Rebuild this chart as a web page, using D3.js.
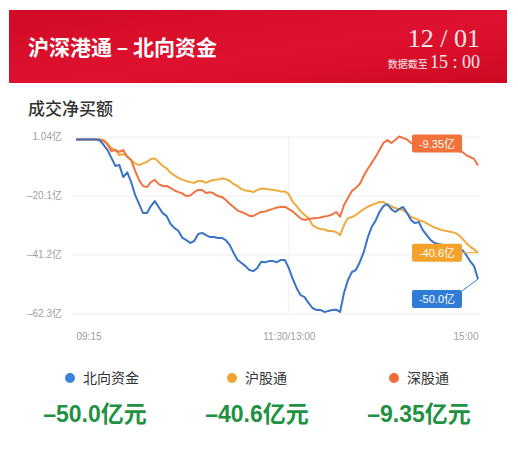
<!DOCTYPE html>
<html><head><meta charset="utf-8">
<script src="https://cdn.jsdelivr.net/npm/d3@7"></script>
<style>
html,body{margin:0;padding:0;background:#fff;}
svg{display:block;}
</style></head>
<body>
<svg id="c" width="518" height="464"></svg>
<script>
// ---- data ----
const times = [
 "09:15","09:17:30","09:20","09:22:30","09:25","09:27:30","09:30","09:32:30","09:35","09:37:30","09:40","09:42:30","09:45","09:47:30","09:50","09:52:30","09:55","09:57:30",
 "10:00","10:02:30","10:05","10:07:30","10:10","10:12:30","10:15","10:17:30","10:20","10:22:30","10:25","10:27:30","10:30","10:32:30","10:35","10:37:30","10:40","10:42:30","10:45","10:47:30","10:50","10:52:30","10:55","10:57:30",
 "11:00","11:02:30","11:05","11:07:30","11:10","11:12:30","11:15","11:17:30","11:20","11:22:30","11:25","11:27:30","11:30",
 "13:02:30","13:05","13:07:30","13:10","13:12:30","13:15","13:17:30","13:20","13:22:30","13:25","13:27:30","13:30","13:32:30","13:35","13:37:30","13:40","13:42:30","13:45","13:47:30","13:50","13:52:30","13:55","13:57:30",
 "14:00","14:02:30","14:05","14:07:30","14:10","14:12:30","14:15","14:17:30","14:20","14:22:30","14:25","14:27:30","14:30","14:32:30","14:35","14:37:30","14:40","14:42:30","14:45","14:47:30","14:50","14:52:30","14:55","14:57:30",
 "15:00"];
const northbound = [
 0,0, 0,0, 0,0, -0.3,-2.0, -3.8,-6.7, -9.5,-9.2, -13.5,-11.8, -15.3,-19.9, -23.1,-26.4, -26.4,-23.9,
 -22.1,-24.3, -26.4,-27.5, -30.3,-31.8, -32.8,-35.3, -36.1,-37.1, -36.4,-33.9, -33.5,-34.3, -35.0,-35.0, -35.3,-35.3, -36.1,-37.8,
 -40.7,-43.2, -44.3,-45.4, -46.8,-47.2, -46.1,-43.8, -44.0,-43.6, -43.6,-44.0, -43.2,-43.2, -46.1,
 -50.0, -53.3,-55.8, -56.5,-58.6, -60.4,-61.1, -61.1,-61.8, -61.5,-61.1, -61.0,-61.8, -55.0,-50.4, -47.5,-46.8, -44.0,-40.4, -35.3,-31.4,
 -29.2,-26.0, -23.9,-23.2, -25.0,-26.0, -25.0,-24.2, -26.4,-28.9, -30.0,-29.6, -32.5,-34.3, -36.1,-37.1, -37.5,-37.8, -38.6,-38.6,
 -39.0,-39.3, -39.6,-41.4, -43.6,-45.4, -50.0];
const shanghai = [
 0,0, 0,0, 0,0, 0,-0.2, -1.5,-3.1, -3.8,-5.6, -5.2,-6.0, -7.4,-8.6, -9.2,-8.6, -8.1,-7.0,
 -6.8,-8.1, -9.5,-10.4, -12.0,-12.9, -13.8,-14.5, -14.9,-15.3, -15.6,-14.9, -14.9,-15.6, -14.9,-14.5, -14.4,-14.0, -14.2,-14.9,
 -16.0,-16.7, -17.8,-18.3, -18.5,-18.9, -18.1,-17.6, -17.8,-17.9, -18.1,-18.3, -18.7,-18.7, -19.6,
 -22.4, -23.9,-25.7, -27.1,-28.2, -30.7,-31.6, -32.1,-32.3, -32.8,-32.8, -33.2,-34.3, -30.7,-28.2, -27.8,-27.1, -26.0,-25.0, -24.2,-23.5,
 -23.0,-22.4, -22.4,-23.5, -23.9,-24.6, -25.0,-25.3, -26.4,-27.8, -28.3,-28.9, -29.4,-30.1, -30.9,-31.6, -32.1,-32.5, -32.8,-33.1,
 -33.4,-34.1, -35.5,-37.1, -38.4,-39.4, -40.6];
const shenzhen = [
 0,0, 0,0, 0,0, 0,-0.6, -1.8,-4.2, -3.8,-4.5, -3.8,-6.3, -7.4,-11.3, -14.5,-16.7, -17.1,-15.3,
 -14.5,-16.0, -16.7,-16.7, -17.4,-18.3, -18.9,-19.4, -20.3,-20.1, -18.9,-18.1, -18.1,-19.2, -18.9,-19.4, -20.3,-20.6, -21.7,-23.1,
 -24.2,-25.5, -26.0,-26.6, -27.4,-27.4, -26.7,-26.0, -25.8,-25.3, -24.9,-24.4, -24.2,-24.1, -25.0,
 -25.8, -27.1,-28.3, -28.9,-28.5, -28.3,-28.2, -28.0,-27.6, -27.4,-26.9, -26.0,-27.7, -23.5,-21.0, -18.5,-17.4, -16.0,-13.1, -10.6,-8.5,
 -6.3,-3.8, -1.3,-0.2, -1.3,-0.2, 1.04,0.5, 0.0,-1.3, -1.6,-2.0, -2.4,-2.5, -2.7,-2.9, -3.1,-3.3, -3.4,-3.6,
 -3.8,-4.2, -4.5,-5.6, -6.3,-7.0, -9.35];
const seriesNames = ["北向资金","沪股通","深股通"];
const endLabels = ["-50.0亿","-40.6亿","-9.35亿"];
const totals = ["–50.0亿元","–40.6亿元","–9.35亿元"];
const yTicks = [1.04,-20.1,-41.2,-62.3];
const yTickLabels = ["1.04亿","–20.1亿","–41.2亿","–62.3亿"];
const xTicks = ["09:15","11:30","15:00"];
const xTickLabels = ["09:15","11:30/13:00","15:00"];

// ---- styles ----
const lineColors = ["#3a74c4","#eeaa3c","#ee7443"];
const boxColors = ["#2f7bd6","#f3a22c","#f2703a"];
const dotColors = ["#3a82dc","#f2a430","#ee6c3a"];
const labelDy = [20, 0, -22];
const CJK = "'Noto Sans CJK SC','Noto Sans',sans-serif";
const NUM = "'Liberation Sans','Noto Sans CJK SC',sans-serif";

const svg = d3.select("#c");
const defs = svg.append("defs");
const g1 = defs.append("linearGradient").attr("id","hdr").attr("x1","0").attr("y1","0").attr("x2","1").attr("y2","1");
g1.append("stop").attr("offset","0").attr("stop-color","#d20a24");
g1.append("stop").attr("offset","0.55").attr("stop-color","#de1230");
g1.append("stop").attr("offset","0.75").attr("stop-color","#d80e2a");
g1.append("stop").attr("offset","1").attr("stop-color","#cc0a22");

// header
svg.append("rect").attr("x",9).attr("y",10).attr("width",498).attr("height",73).attr("fill","url(#hdr)");
svg.append("text").attr("x",28).attr("y",55).attr("fill","#fff")
  .style("font-family",CJK).style("font-size","21px").style("font-weight","700")
  .text("沪深港通 – 北向资金");
svg.append("text").attr("x",480).attr("y",47).attr("text-anchor","end").attr("fill","#fbe6e8")
  .style("font-family","'Liberation Serif','DejaVu Serif',serif").style("font-size","26px")
  .text("12 / 01");
const sub = svg.append("text").attr("x",480).attr("y",68).attr("text-anchor","end").attr("fill","#fbe6e8");
sub.append("tspan").style("font-family",CJK).style("font-size","10px").text("数据截至 ");
sub.append("tspan").style("font-family","'Liberation Serif','DejaVu Serif',serif").style("font-size","18px").text("15 : 00");

svg.append("text").attr("x",28).attr("y",115).attr("fill","#333")
  .style("font-family",CJK).style("font-size","17px").style("font-weight","500")
  .text("成交净买额");

// scales
const x = d3.scalePoint().domain(times).range([76,478]);
const y = d3.scaleLinear().domain([-62.3,1.04]).range([313.3,136.5]);

// y axis w/ gridlines
const ya = svg.append("g").attr("transform","translate(72,0)")
  .call(d3.axisLeft(y).tickValues(yTicks).tickSize(-408).tickPadding(10)
    .tickFormat((d,i)=>yTickLabels[i]));
ya.select(".domain").remove();
ya.selectAll(".tick line").attr("stroke","#eeeeee").attr("stroke-width",1);
ya.selectAll(".tick text").attr("fill","#a0a0a0").style("font-family",NUM).style("font-size","10px");

// vertical gridline at midday
svg.append("line").attr("x1",x("11:30")).attr("x2",x("11:30")).attr("y1",136.5).attr("y2",313.3)
  .attr("stroke","#f0f0f0");

// x axis
const xa = svg.append("g").attr("transform","translate(0,330)")
  .call(d3.axisBottom(x).tickValues(xTicks).tickSize(0).tickPadding(3)
    .tickFormat((d,i)=>xTickLabels[i]));
xa.select(".domain").remove();
xa.selectAll(".tick text").attr("fill","#a0a0a0").style("font-family",NUM).style("font-size","10px")
  .attr("text-anchor",(d,i)=> i===0?"start":(i===2?"end":"middle"));

// lines
const allSeries = [northbound, shanghai, shenzhen];
const line = d3.line().x((d,i)=>x(times[i])).y(d=>y(d));
const drawOrder = [1,2,0];
drawOrder.forEach(s=>{
  svg.append("path").datum(allSeries[s]).attr("d",line).attr("fill","none")
    .attr("stroke",lineColors[s]).attr("stroke-width",2).attr("stroke-linejoin","round");
});

// end labels
allSeries.forEach((vals,s)=>{
  const ex = x(times[times.length-1]);
  const ey = y(vals[vals.length-1]);
  const bx = ex-66, bw = 50, bh = 18;
  const cy = ey + labelDy[s];
  if (s!==2) {
    svg.append("line").attr("x1",bx+bw).attr("y1",cy - (s===0?8:0)).attr("x2",ex).attr("y2",ey)
      .attr("stroke",boxColors[s]).attr("stroke-width",1);
  }
  svg.append("rect").attr("x",bx).attr("y",cy-bh/2).attr("width",bw).attr("height",bh)
    .attr("rx",2).attr("fill",boxColors[s]);
  svg.append("text").attr("x",bx+bw/2).attr("y",cy+4).attr("text-anchor","middle").attr("fill","#fff")
    .style("font-family",NUM).style("font-size","11px").text(endLabels[s]);
});

// legend
const cols = [95, 257, 419];
seriesNames.forEach((n,i)=>{
  svg.append("circle").attr("cx",cols[i]-25).attr("cy",378).attr("r",5).attr("fill",dotColors[i]);
  svg.append("text").attr("x",cols[i]-12).attr("y",383).attr("fill","#333")
    .style("font-family",CJK).style("font-size","14px").text(n);
  svg.append("text").attr("x",cols[i]).attr("y",422).attr("text-anchor","middle").attr("fill","#1f9142")
    .style("font-family",NUM).style("font-size","23px").style("font-weight","700").text(totals[i]);
});
</script>
</body></html>
